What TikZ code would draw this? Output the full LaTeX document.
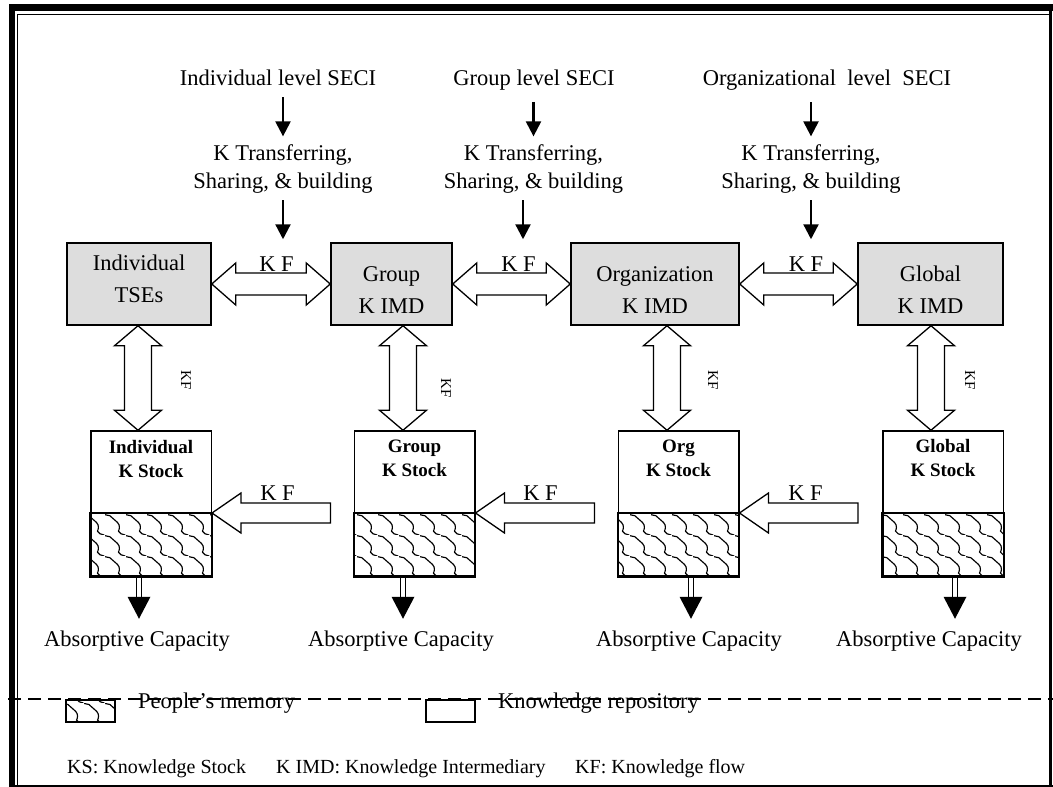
\documentclass[tikz,border=0pt]{standalone}
\usepackage{fontspec}
\setmainfont{Liberation Serif}
\usetikzlibrary{arrows.meta,calc,patterns}

\definecolor{kgray}{RGB}{221,221,221}

% fish-scale hatch used for people's memory: wavy chains running down to the right
\pgfdeclarepatternformonly{kscale}{\pgfpointorigin}{\pgfqpoint{21pt}{21pt}}{\pgfqpoint{21pt}{21pt}}{%
  \pgfsetlinewidth{1.2pt}%
  \pgfpathmoveto{\pgfqpoint{0pt}{21pt}}%
  \pgfpathlineto{\pgfqpoint{5pt}{20pt}}%
  \pgfpathlineto{\pgfqpoint{13pt}{13pt}}%
  \pgfpathcurveto{\pgfqpoint{16pt}{10pt}}{\pgfqpoint{15pt}{6pt}}{\pgfqpoint{14pt}{4pt}}%
  \pgfpathcurveto{\pgfqpoint{15pt}{1.5pt}}{\pgfqpoint{18pt}{0.5pt}}{\pgfqpoint{21pt}{0pt}}%
  \pgfusepath{stroke}%
}

% hollow two-headed horizontal flow arrow: #1 left tip, #2 right tip
\newcommand\flowH[2]{%
  \draw[hollow] (#1) -- ++(24,-21) -- ++(0,10) -- ($(#2)+(-24,-11)$) -- ++(0,-10) -- (#2)
    -- ++(-24,21) -- ++(0,-10) -- ($(#1)+(24,11)$) -- ++(0,10) -- cycle;}
% hollow two-headed vertical flow arrow: #1 top tip, #2 bottom tip
\newcommand\flowV[2]{%
  \draw[hollow] (#1) -- ++(23.5,20) -- ++(-10,0) -- ($(#2)+(13.5,-20)$) -- ++(10,0) -- (#2)
    -- ++(-23.5,-20) -- ++(10,0) -- ($(#1)+(-13.5,20)$) -- ++(-10,0) -- cycle;}
% hollow left-pointing flow arrow: #1 tip, #2 tail centre
\newcommand\flowL[2]{%
  \draw[hollow] (#1) -- ++(29,-20) -- ++(0,10) -- ($(#2)+(0,-10)$) -- ($(#2)+(0,10)$)
    -- ($(#1)+(29,10)$) -- ++(0,10) -- cycle;}
% double-stemmed output arrow below a stock: #1 stock node, #2 horizontal offset
\newcommand\absorbarrow[2]{%
  \draw[stem] ([xshift=#2-2.5pt]#1.south) -- ++(0,20);
  \draw[stem] ([xshift=#2+2.5pt]#1.south) -- ++(0,20);
  \fill ([xshift=#2]#1.south) ++(-11.5,20) -- ++(23,0) -- ++(-11.5,22) -- cycle;}

\begin{document}
\begin{tikzpicture}[x=1pt,y=-1pt,
  txt/.style={inner sep=0pt, font=\fontsize{22.5pt}{28pt}\selectfont},
  boxtxt/.style={inner sep=0pt, align=center, font=\fontsize{22.5pt}{32pt}\selectfont},
  stocktxt/.style={inner sep=0pt, align=center, font=\fontsize{19pt}{23.5pt}\selectfont\bfseries},
  kfv/.style={inner sep=0pt, rotate=-90, font=\fontsize{15pt}{17pt}\selectfont},
  legtxt/.style={inner sep=0pt, anchor=base west, font=\fontsize{20pt}{24pt}\selectfont},
  kbox/.style={draw, line width=1.5pt, fill=kgray, minimum height=82pt, inner sep=0pt},
  stock/.style={draw, line width=1.5pt, minimum width=120.5pt, minimum height=145pt, inner sep=0pt},
  hatch/.style={draw, line width=1.5pt, pattern=kscale},
  hollow/.style={draw, fill=white, line width=1.3pt, line join=miter},
  thinarr/.style={line width=2.3pt, -{Triangle[length=15pt,width=15pt]}},
  stem/.style={line width=1.1pt},
  dashline/.style={line width=1.5pt, dash pattern=on 13pt off 7pt}]

\useasboundingbox (0,0) rectangle (1053,787);
\fill[white] (0,0) rectangle (1053,787);

% page frame
\fill (9,4) rectangle (1053,11);
\fill (9,4) rectangle (15,787);
\draw[line width=1pt] (17,787) -- (17,14.5) -- (1049,14.5);
\draw[line width=2.5pt] (1050.5,11) -- (1050.5,787);
\draw[line width=2pt] (9,785.5) -- (1053,785.5);

% SECI sources (multi-line nodes sit on the baseline of their last line)
\node[txt, anchor=base] (seci1) at (278,85) {Individual level SECI};
\node[txt, anchor=base] (seci2) at (534,85) {Group level SECI};
\node[txt, anchor=base] (seci3) at (827,85) {Organizational~~level~~SECI};

\node[txt, anchor=base, align=center] (ktb1) at (283,188) {K Transferring,\\Sharing, \& building};
\node[txt, anchor=base, align=center] (ktb2) at (533.5,188) {K Transferring,\\Sharing, \& building};
\node[txt, anchor=base, align=center] (ktb3) at (811,188) {K Transferring,\\Sharing, \& building};

% knowledge intermediaries
\node[kbox, minimum width=144pt] (ind) at (139,284) {};
\node[kbox, minimum width=121pt] (grp) at (391.5,284) {};
\node[kbox, minimum width=168pt] (org) at (655,284) {};
\node[kbox, minimum width=145pt] (glb) at (930.5,284) {};

\node[boxtxt, anchor=base] (indT) at (139,302.7) {Individual\\TSEs};
\node[boxtxt, anchor=base] (grpT) at (391.5,313.5) {Group\\K IMD};
\node[boxtxt, anchor=base] (orgT) at (655,313.5) {Organization\\K IMD};
\node[boxtxt, anchor=base] (glbT) at (930.5,313.5) {Global\\K IMD};

% SECI arrows
\draw[thinarr, shorten <=12pt, shorten >=7.6pt] (seci1.south -| ktb1.north) -- (ktb1.north);
\draw[thinarr, shorten <=12pt, shorten >=7.6pt] (seci2.south -| ktb2.north) -- (ktb2.north);
\draw[thinarr, shorten <=12pt, shorten >=7.6pt] (seci3.south -| ktb3.north) -- (ktb3.north);
\draw[thinarr, shorten <=7pt, shorten >=3pt] (ktb1.south) -- (ktb1.south |- ind.north);
\draw[thinarr, shorten <=7pt, shorten >=3pt] ([xshift=-10.5pt]ktb2.south) -- ([xshift=-10.5pt]ktb2.south |- grp.north);
\draw[thinarr, shorten <=7pt, shorten >=3pt] (ktb3.south) -- (ktb3.south |- org.north);

% flows between intermediaries
\flowH{ind.east}{grp.west}
\flowH{grp.east}{org.west}
\flowH{org.east}{glb.west}
\node[txt, anchor=base] (kfh1) at (276.5,271.5) {K F};
\node[txt, anchor=base] (kfh2) at (518.5,271.5) {K F};
\node[txt, anchor=base] (kfh3) at (806,271.5) {K F};

% knowledge stocks
\node[stock] (sInd) at (151,503.5) {};
\node[stock] (sGrp) at (414.5,503.5) {};
\node[stock] (sOrg) at (678.5,503.5) {};
\node[stock] (sGlb) at (943,503.5) {};
\foreach \s in {sInd,sGrp,sOrg,sGlb}
  \draw[hatch] (\s.south west) rectangle ($(\s.east)+(0,9.5)$);

\node[stocktxt, anchor=base] (sIndT) at (151,477.3) {Individual\\K Stock};
\node[stocktxt, anchor=base] (sGrpT) at (414.5,476) {Group\\K Stock};
\node[stocktxt, anchor=base] (sOrgT) at (678.5,476) {Org\\K Stock};
\node[stocktxt, anchor=base] (sGlbT) at (943,476) {Global\\K Stock};

% flows between intermediaries and stocks
\coordinate (vIndT) at ($(ind.south)+(-1,0)$);   \coordinate (vIndB) at ($(sInd.north)+(-13,0)$);
\coordinate (vGrpT) at ($(grp.south)+(11.5,0)$); \coordinate (vGrpB) at ($(sGrp.north)+(-11.5,0)$);
\coordinate (vOrgT) at ($(org.south)+(12,0)$);   \coordinate (vOrgB) at ($(sOrg.north)+(-11.5,0)$);
\coordinate (vGlbT) at ($(glb.south)+(0.5,0)$);  \coordinate (vGlbB) at ($(sGlb.north)+(-12,0)$);
\flowV{vIndT}{vIndB}
\flowV{vGrpT}{vGrpB}
\flowV{vOrgT}{vOrgB}
\flowV{vGlbT}{vGlbB}
\node[kfv] (kv1) at (186,380) {KF};
\node[kfv] (kv2) at (446,388) {KF};
\node[kfv] (kv3) at (713,380) {KF};
\node[kfv] (kv4) at (970,380) {KF};

% flows between stocks
\coordinate (fIndTip) at ($(sInd.east)+(0,9.5)$); \coordinate (fIndTail) at ($(sGrp.west)+(-23,9.5)$);
\coordinate (fGrpTip) at ($(sGrp.east)+(0,9.5)$); \coordinate (fGrpTail) at ($(sOrg.west)+(-23,9.5)$);
\coordinate (fOrgTip) at ($(sOrg.east)+(0,9.5)$); \coordinate (fOrgTail) at ($(sGlb.west)+(-24,9.5)$);
\flowL{fIndTip}{fIndTail}
\flowL{fGrpTip}{fGrpTail}
\flowL{fOrgTip}{fOrgTail}
\node[txt, anchor=base] (kfs1) at (277.5,500.5) {K F};
\node[txt, anchor=base] (kfs2) at (540.5,500.5) {K F};
\node[txt, anchor=base] (kfs3) at (805.5,500.5) {K F};

% absorptive capacity outputs
\absorbarrow{sInd}{-12pt}
\absorbarrow{sGrp}{-11.5pt}
\absorbarrow{sOrg}{12.5pt}
\absorbarrow{sGlb}{12pt}
\node[txt, anchor=base] (ac1) at (137,646.5) {Absorptive Capacity};
\node[txt, anchor=base] (ac2) at (401,646.5) {Absorptive Capacity};
\node[txt, anchor=base] (ac3) at (689,646.5) {Absorptive Capacity};
\node[txt, anchor=base] (ac4) at (929,646.5) {Absorptive Capacity};

% legend
\node[hatch, minimum width=49pt, minimum height=22pt, inner sep=0pt] (lgH) at (90.5,711) {};
\node[draw, line width=1.5pt, minimum width=49pt, minimum height=22pt, inner sep=0pt] (lgP) at (450.5,711) {};
\node[txt, anchor=base west] (lgHT) at (138,708.5) {People’s memory};
\node[txt, anchor=base west] (lgPT) at (498,708.5) {Knowledge repository};
\draw[dashline] (8,699) -- (1053,699);

\node[legtxt] (ab1) at (67,773) {KS: Knowledge Stock};
\node[legtxt] (ab2) at (276,773) {K IMD: Knowledge Intermediary};
\node[legtxt] (ab3) at (575,773) {KF: Knowledge flow};
\end{tikzpicture}
\end{document}
